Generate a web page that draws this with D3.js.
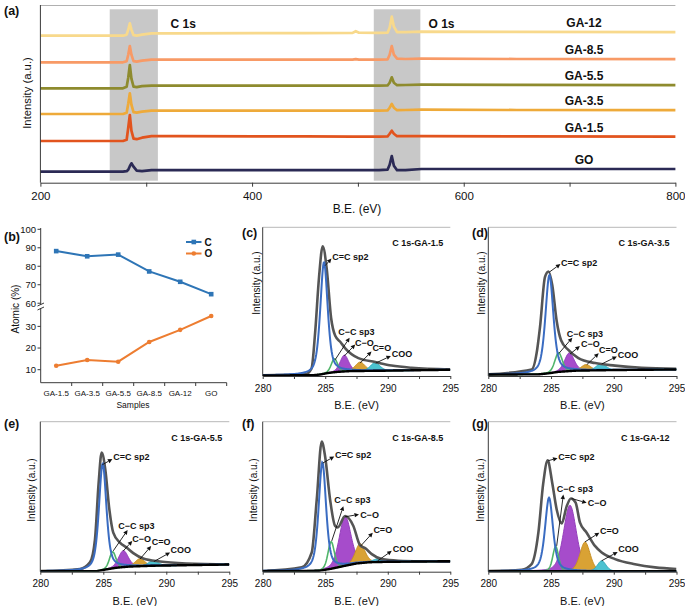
<!DOCTYPE html>
<html><head><meta charset="utf-8">
<script src="https://cdn.jsdelivr.net/npm/d3@7"></script>
<style>
body{margin:0;background:#fff}
svg{display:block;font-family:"Liberation Sans",Arial,Helvetica,sans-serif}
</style></head>
<body><svg id="chart" width="685" height="606"></svg>
<script>
// ================= DATA =================
// (a) survey spectra: binding energy grid and intensities (arb. units)
const surveyBE = [200, 278, 281.5, 283, 284.5, 286, 288, 291, 296, 305, 330, 450, 495, 498, 501, 520, 528, 530, 532, 534, 537, 545, 560, 650, 800];
const surveyNames = ["GA-12", "GA-8.5", "GA-5.5", "GA-3.5", "GA-1.5", "GO"];
const surveyGA12 = [147, 147, 148, 153, 159.4, 153, 147.5, 147, 148, 149.4, 149.4, 149.6, 149.8, 151.5, 150, 149.8, 150, 155, 166, 156, 150.5, 150.5, 151, 150.8, 150.5];
const surveyGA85 = [120.4, 120.4, 121.5, 128, 136.7, 128, 121.5, 121, 122, 123, 123, 123, 123, 123.5, 123, 123, 123.2, 128, 136.7, 128, 124, 123.7, 124, 123.7, 123.5];
const surveyGA55 = [94.4, 94.4, 96, 105, 117.7, 104, 96, 95.5, 96.5, 97, 97, 97, 97, 97, 97, 97, 97.2, 100, 105.4, 100, 97.5, 97.7, 98, 97.8, 97.5];
const surveyGA35 = [68.7, 68.7, 70, 79, 89.4, 78, 70.5, 70, 71, 72, 72, 72, 72, 72, 72, 72, 72.2, 75, 78.7, 75, 72.5, 72.7, 73, 72.7, 72.5];
const surveyGA15 = [41.7, 41.7, 43, 55, 67.7, 52, 44, 43.5, 45, 46.5, 46.5, 46.3, 46, 46, 46, 46, 46.2, 49, 52, 49, 46.5, 46.5, 46.5, 46.3, 46];
const surveyGO   = [11, 11, 11.5, 13, 16.5, 19.4, 16, 12, 11.5, 12.5, 12.5, 12.5, 12.5, 12.5, 12.5, 12.5, 13, 18, 26.7, 17, 12.5, 12.5, 13.7, 13.7, 13.7];
const surveyColors = ["#f8d98c", "#f89a66", "#8e8b2e", "#eeaa3a", "#e2541e", "#2b2a55"];
const surveyTicks = [200, 300, 400, 500, 600, 700, 800];
const surveyTickLabels = [200, 400, 600, 800];
const bandC1s = [265.5, 311];
const bandO1s = [515, 559];
const regionLabels = ["C 1s", "O 1s"];
const regionLabelBE = [335, 579];

// (b) atomic composition
const samples = ["GA-1.5", "GA-3.5", "GA-5.5", "GA-8.5", "GA-12", "GO"];
const atomicC = [88.2, 85.4, 86.3, 77.2, 71.6, 64.9];
const atomicO = [11.8, 14.5, 13.7, 22.8, 28.4, 34.8];
const upperTicks = [60, 70, 80, 90, 100];
const lowerTicks = [10, 20, 30];

// (c)-(g) C 1s high resolution fits
const beTicks = [280, 282.5, 285, 287.5, 290, 292.5, 295];
const beTickLabels = [280, 285, 290, 295];
const componentNames = ["C=C sp2", "C\u2212C sp3", "C\u2212O", "C=O", "COO"];
// each component: [centre (eV), height (% of frame), FWHM (eV)]
const compGA15 = [[284.9, 75, 0.7], [285.73, 9, 0.6], [286.53, 11, 0.8], [287.79, 6, 0.9], [288.99, 5.5, 0.9]];
const compGA35 = [[284.87, 66, 0.75], [285.6, 12.8, 0.7], [286.46, 12.3, 0.9], [287.79, 4, 0.9], [288.99, 4.5, 0.9]];
const compGA55 = [[284.95, 71, 0.7], [285.74, 11, 0.6], [286.59, 11, 0.9], [287.91, 5, 0.9], [288.97, 3.5, 0.9]];
const compGA85 = [[284.77, 72, 0.7], [285.47, 18, 0.6], [286.59, 33, 1.1], [287.79, 13, 0.9], [289.12, 2, 0.8]];
const compGA12 = [[284.84, 49, 0.75], [285.37, 16.5, 0.55], [286.51, 44, 1.2], [287.71, 19.5, 0.95], [289.04, 7, 0.8]];
// measured envelopes [eV, %]
const envGA15 = [[280,0.4],[283.4,1.1],[283.9,5],[284.2,30],[284.5,66],[284.8,87.3],[285.12,72],[285.47,39],[285.8,27],[286.2,23],[286.6,18.6],[287.65,12],[289,9.4],[290.3,7],[291.9,5.5],[295,4.4]];
const envGA35 = [[280,1.1],[283.46,4.4],[283.9,18],[284.12,32.8],[284.52,66.6],[284.8,70.3],[285.1,61],[285.45,37],[285.8,24],[286.38,17.5],[287.18,12],[288.51,8.7],[290.1,7],[292.23,5.5],[295,4.8]];
const envGA55 = [[280,0.4],[283.15,1.8],[283.94,6.2],[284.34,21.6],[284.63,59.2],[284.87,79.5],[285.16,68],[285.48,41.5],[285.79,26],[286.32,19.4],[286.85,16.1],[287.38,12.4],[288.17,8.8],[289.5,6.8],[291.6,5.5],[295,4.9]];
const envGA85 = [[280,0.4],[283.12,2.9],[283.92,12.8],[284.32,48],[284.72,86.8],[284.99,76.8],[285.39,48],[285.79,30.5],[286.0,29.5],[286.59,37.1],[287.25,30.5],[287.79,17.5],[288.19,15.7],[288.72,11.7],[289.52,8.4],[290.85,7.3],[295,6.6]];
const envGA12 = [[280,0.4],[282.66,1.3],[283.45,5],[283.99,26],[284.38,59],[284.73,74.2],[285.1,59],[285.45,41.5],[285.85,32.2],[286.25,43.7],[286.59,48.8],[286.96,46],[287.31,32.7],[287.84,26],[288.5,17.2],[289.04,12.8],[290.1,8.4],[291.69,5],[293.29,2.9],[295,1.8]];
// Shirley backgrounds [eV, %]
const bgGA15 = [[280,0.4],[284,0.5],[284.6,1],[285.2,2],[286,2.8],[287,3.3],[290,3.6],[295,4.2]];
const bgGA35 = [[280,1],[284,1.1],[284.8,1.8],[285.6,2.8],[287,3.6],[290,4],[295,4.4]];
const bgGA55 = [[280,0.3],[284.5,0.4],[285.2,1.5],[286,2.6],[287,3.4],[289,4],[295,4.8]];
const bgGA85 = [[280,0.4],[284.5,0.6],[285.5,2],[286.5,3.8],[287.5,5.5],[288.5,6.3],[290,6.6],[295,7]];
const bgGA12 = [[280,0.3],[295,0.3]];
// annotation: [label left eV, label %, arrow from eV, from %, arrow to eV, to %]
const annGA15 = [[285.57,80.3,284.99,74.2,285.5,79],[286.05,29.5,285.79,10.9,286.95,25.8],[287.39,22.3,286.53,13.5,287.4,21.2],[288.77,19,287.79,8.7,288.7,16.4],[290.32,14.8,289.04,8.7,290.25,13.5]];
const annGA35 = [[285.8,76.4,284.87,69.9,285.75,75.3],[286.25,28.4,285.64,15.3,286.7,25.8],[287.39,21.8,286.52,14.8,287.3,20.1],[288.83,17.5,287.85,7.6,288.8,15.3],[290.32,14.2,289.04,8.1,290.25,13.1]];
const annGA55 = [[285.79,76.8,284.92,71.3,285.72,75.1],[286.19,30.5,285.79,13.9,286.93,27.8],[287.3,21.6,286.59,13.9,287.3,20.5],[288.84,19.9,287.91,8.4,288.8,17.2],[290.34,14.3,289.02,6.8,290.3,12.8]];
const annGA85 = [[285.79,77.9,284.8,72.4,285.72,76.8],[285.73,48.1,285.52,20.5,286.45,43.7],[287.79,38.2,286.59,36.6,287.7,38.2],[288.85,27.6,287.84,17.2,288.8,26],[290.4,15,289.2,7.3,290.32,13.9]];
const annGA12 = [[285.58,76.8,284.78,74,285.52,75.7],[285.45,55.2,285.45,17.2,285.98,51.4],[287.92,45.9,286.64,48.8,287.84,45.9],[288.9,27.2,287.71,19.9,288.85,26],[290.36,15,289.04,7.3,290.31,13.2]];

// ================= DRAW =================
const svg = d3.select("#chart");
const AX = "#3a3a3a";
function panelLetter(txt, x, y) {
  svg.append("text").attr("x", x).attr("y", y).attr("font-size", 12.5).attr("font-weight", "bold").attr("fill", "#111").text(txt);
}
// ---------- (a) ----------
(function () {
  const x = d3.scaleLinear().domain([200, 800]).range([40.4, 675.4]);
  const y = d3.scaleLinear().domain([0, 177.7]).range([182.7, 5]);
  const g = svg.append("g");
  [bandC1s, bandO1s].forEach(b => {
    g.append("rect").attr("x", x(b[0])).attr("width", x(b[1]) - x(b[0])).attr("y", 9.3).attr("height", 180.7 - 9.3).attr("fill", "#c8c8c8");
  });
  g.append("line").attr("x1", x(200)).attr("x2", x(800)).attr("y1", 5.5).attr("y2", 5.5).attr("stroke", "#b0b0b0");
  const series = [surveyGA12, surveyGA85, surveyGA55, surveyGA35, surveyGA15, surveyGO];
  const line = d3.line().x((d, i) => x(surveyBE[i])).y(d => y(d));
  series.forEach((s, k) => {
    g.append("path").attr("d", line(s)).attr("fill", "none").attr("stroke", surveyColors[k]).attr("stroke-width", 2.7).attr("stroke-linejoin", "round");
    g.append("text").attr("x", 584).attr("y", y(s[s.length - 1]) - 9).attr("dy", "0.35em").attr("text-anchor", "middle").attr("font-size", 12).attr("font-weight", "bold").attr("fill", "#111").text(surveyNames[k]);
  });
  regionLabels.forEach((t, i) => {
    g.append("text").attr("x", x(regionLabelBE[i])).attr("y", 24).attr("dy", "0.35em").attr("text-anchor", "middle").attr("font-size", 12).attr("font-weight", "bold").attr("fill", "#111").text(t);
  });
  const xa = g.append("g").attr("transform", "translate(0,182.7)")
    .call(d3.axisBottom(x).tickValues(surveyTicks).tickSize(4).tickSizeOuter(0).tickFormat(d => surveyTickLabels.includes(d) ? d : ""));
  xa.select(".domain").attr("stroke", AX);
  xa.selectAll("line").attr("stroke", AX);
  xa.selectAll("text").attr("font-size", 11.5).attr("font-family", "Liberation Sans, Arial").attr("fill", "#111").attr("dy", "0.9em");
  g.append("line").attr("x1", 40.4).attr("x2", 40.4).attr("y1", 5).attr("y2", 182.7).attr("stroke", AX);
  g.append("text").attr("x", 357).attr("y", 213).attr("text-anchor", "middle").attr("font-size", 12).attr("fill", "#111").text("B.E. (eV)");
  g.append("text").attr("transform", "translate(31,93) rotate(-90)").attr("text-anchor", "middle").attr("font-size", 11.3).attr("fill", "#111").text("Intensity (a.u.)");
  panelLetter("(a)", 4, 15);
})();
// ---------- (b) ----------
(function () {
  const g = svg.append("g");
  const x = d3.scaleBand().domain(samples).range([40.7, 226.7]);
  const yU = d3.scaleLinear().domain([58.5, 100]).range([306, 229.3]);
  const yL = d3.scaleLinear().domain([4, 36.5]).range([382.7, 312.3]);
  const cx = d => x(d) + x.bandwidth() / 2;
  g.append("line").attr("x1", 40.7).attr("x2", 40.7).attr("y1", 228).attr("y2", 382.7).attr("stroke", AX);
  g.append("line").attr("x1", 40.7).attr("x2", 226.7).attr("y1", 382.7).attr("y2", 382.7).attr("stroke", AX);
  g.append("rect").attr("x", 37).attr("y", 305).attr("width", 8).attr("height", 3).attr("fill", "#fff");
  [304.5, 308.5].forEach(v => g.append("line").attr("x1", 37.5).attr("x2", 44).attr("y1", v + 1.5).attr("y2", v - 1.5).attr("stroke", AX));
  samples.forEach(s => {
    const bx = x(s) + x.bandwidth();
    g.append("line").attr("x1", bx).attr("x2", bx).attr("y1", 382.7).attr("y2", 386).attr("stroke", AX);
    g.append("text").attr("x", cx(s)).attr("y", 393.5).attr("dy", "0.35em").attr("text-anchor", "middle").attr("font-size", 8).attr("fill", "#111").text(s);
  });
  upperTicks.forEach(t => {
    g.append("line").attr("x1", 37.5).attr("x2", 40.7).attr("y1", yU(t)).attr("y2", yU(t)).attr("stroke", AX);
    g.append("text").attr("x", 36).attr("y", yU(t)).attr("dy", "0.35em").attr("text-anchor", "end").attr("font-size", 9.5).attr("fill", "#111").text(t);
  });
  lowerTicks.forEach(t => {
    g.append("line").attr("x1", 37.5).attr("x2", 40.7).attr("y1", yL(t)).attr("y2", yL(t)).attr("stroke", AX);
    g.append("text").attr("x", 36).attr("y", yL(t)).attr("dy", "0.35em").attr("text-anchor", "end").attr("font-size", 9.5).attr("fill", "#111").text(t);
  });
  const cCol = "#2e75b6", oCol = "#ed7d31";
  g.append("path").attr("d", d3.line().x((d, i) => cx(samples[i])).y(d => yU(d))(atomicC)).attr("fill", "none").attr("stroke", cCol).attr("stroke-width", 2);
  g.append("path").attr("d", d3.line().x((d, i) => cx(samples[i])).y(d => yL(d))(atomicO)).attr("fill", "none").attr("stroke", oCol).attr("stroke-width", 2);
  atomicC.forEach((d, i) => g.append("rect").attr("x", cx(samples[i]) - 2.3).attr("y", yU(d) - 2.3).attr("width", 4.6).attr("height", 4.6).attr("fill", cCol));
  atomicO.forEach((d, i) => g.append("circle").attr("cx", cx(samples[i])).attr("cy", yL(d)).attr("r", 2.3).attr("fill", oCol));
  [["C", cCol, 242], ["O", oCol, 253.5]].forEach(([t, c, yy], k) => {
    g.append("line").attr("x1", 186).attr("x2", 201.5).attr("y1", yy).attr("y2", yy).attr("stroke", c).attr("stroke-width", 2);
    if (k === 0) g.append("rect").attr("x", 191.5).attr("y", yy - 2.3).attr("width", 4.6).attr("height", 4.6).attr("fill", c);
    else g.append("circle").attr("cx", 193.8).attr("cy", yy).attr("r", 2.3).attr("fill", c);
    g.append("text").attr("x", 204.5).attr("y", yy).attr("dy", "0.35em").attr("font-size", 10).attr("font-weight", "bold").attr("fill", "#111").text(t);
  });
  g.append("text").attr("transform", "translate(19,309) rotate(-90)").attr("text-anchor", "middle").attr("font-size", 10).attr("fill", "#111").text("Atomic (%)");
  g.append("text").attr("x", 133).attr("y", 405).attr("dy", "0.35em").attr("text-anchor", "middle").attr("font-size", 8.5).attr("fill", "#111").text("Samples");
  panelLetter("(b)", 4, 241);
})();
// ---------- (c)-(g) ----------
const compStyles = [
  {fill: "none", stroke: "#3a6cc2", sw: 2},
  {fill: "none", stroke: "#50b56a", sw: 1.6},
  {fill: "#a64ccb", stroke: "#9440bb", sw: 1},
  {fill: "#d9a234", stroke: "#c89025", sw: 1},
  {fill: "#4cc2d0", stroke: "#33aab9", sw: 1}
];
function pv(e, c, h, w, eta) {
  const dx = e - c, hw = w / 2;
  const L = 1 / (1 + (dx / hw) * (dx / hw));
  const G = Math.exp(-Math.LN2 * (dx / hw) * (dx / hw));
  return h * (eta * L + (1 - eta) * G);
}
let clipId = 0;
function xpsPanel(o) {
  const g = svg.append("g");
  const x = d3.scaleLinear().domain([280, 295]).range([o.L, o.R]);
  const y = d3.scaleLinear().domain([0, 100]).range([o.B, o.T]);
  const bg = d3.scaleLinear().domain(o.bg.map(d => d[0])).range(o.bg.map(d => d[1])).clamp(true);
  const id = "clip" + (clipId++);
  svg.append("clipPath").attr("id", id).append("rect").attr("x", o.L).attr("y", o.T).attr("width", o.R - o.L).attr("height", o.B - o.T);
  const pg = g.append("g").attr("clip-path", `url(#${id})`);
  const grid = d3.range(280, 295.001, 0.04);
  [2, 3, 4].forEach(k => {
    const [c, h, w] = o.comp[k];
    const area = d3.area().x(e => x(e)).y0(e => y(bg(e))).y1(e => y(bg(e) + pv(e, c, h, w, 0.3)));
    pg.append("path").attr("d", area(grid)).attr("fill", compStyles[k].fill).attr("stroke", compStyles[k].stroke).attr("stroke-width", compStyles[k].sw);
  });
  pg.append("path").attr("d", d3.line().x(d => x(d[0])).y(d => y(d[1])).curve(d3.curveMonotoneX)(o.env))
    .attr("fill", "none").attr("stroke", "#555").attr("stroke-width", 2.6).attr("stroke-linejoin", "round");
  [1, 0].forEach(k => {
    const [c, h, w] = o.comp[k];
    const eta = k === 0 ? 0.55 : 0.3;
    const ln = d3.line().x(e => x(e)).y(e => y(bg(e) + pv(e, c, h, w, eta)));
    pg.append("path").attr("d", ln(grid)).attr("fill", "none").attr("stroke", compStyles[k].stroke).attr("stroke-width", compStyles[k].sw);
  });
  pg.append("path").attr("d", d3.line().x(e => x(e)).y(e => y(bg(e)))(grid)).attr("fill", "none").attr("stroke", "#000").attr("stroke-width", 2.4);
  g.append("line").attr("x1", o.L).attr("x2", o.R).attr("y1", o.T).attr("y2", o.T).attr("stroke", "#b8b8b8");
  g.append("line").attr("x1", o.L).attr("x2", o.L).attr("y1", o.T).attr("y2", o.B).attr("stroke", AX);
  const xa = g.append("g").attr("transform", `translate(0,${o.B})`)
    .call(d3.axisBottom(x).tickValues(beTicks).tickSize(3).tickSizeOuter(0).tickFormat(d => beTickLabels.includes(d) ? d : ""));
  xa.select(".domain").attr("stroke", AX);
  xa.selectAll("line").attr("stroke", AX);
  xa.selectAll("text").attr("font-size", 10).attr("font-family", "Liberation Sans, Arial").attr("fill", "#111").attr("dy", "0.95em");
  g.append("text").attr("x", (o.L + o.R) / 2).attr("y", o.B + 29).attr("dy", "0.35em").attr("text-anchor", "middle").attr("font-size", 11).attr("fill", "#111").text("B.E. (eV)");
  g.append("text").attr("transform", `translate(${o.yl},${o.ylc}) rotate(-90)`).attr("text-anchor", "middle").attr("dy", "0.35em").attr("font-size", 10).attr("fill", "#111").text("Intensity (a.u.)");
  g.append("text").attr("x", o.R - 7).attr("y", o.T + 16).attr("dy", "0.35em").attr("text-anchor", "end").attr("font-size", 9).attr("font-weight", "bold").attr("fill", "#111").text(o.title);
  o.ann.forEach((a, k) => {
    const x1 = x(a[2]), y1 = y(a[3]), x2 = x(a[4]), y2 = y(a[5]);
    const ang = Math.atan2(y2 - y1, x2 - x1), hl = 4.5, hwd = 2.2;
    const bx = x2 - hl * Math.cos(ang), by = y2 - hl * Math.sin(ang);
    g.append("line").attr("x1", x1).attr("y1", y1).attr("x2", bx).attr("y2", by).attr("stroke", "#111").attr("stroke-width", 0.9);
    g.append("path").attr("d", `M${x2},${y2}L${bx + hwd * Math.sin(ang)},${by - hwd * Math.cos(ang)}L${bx - hwd * Math.sin(ang)},${by + hwd * Math.cos(ang)}Z`).attr("fill", "#111");
    g.append("text").attr("x", x(a[0])).attr("y", y(a[1])).attr("dy", "0.35em").attr("font-size", 9).attr("font-weight", "bold").attr("fill", "#111").text(componentNames[k]);
  });
  panelLetter(o.letter, o.lx, o.ly);
}
xpsPanel({L: 262.7, R: 450.3, T: 227.3, B: 376, comp: compGA15, env: envGA15, bg: bgGA15, ann: annGA15, title: "C 1s-GA-1.5", yl: 256.5, ylc: 283, letter: "(c)", lx: 242, ly: 237});
xpsPanel({L: 488.3, R: 676.5, T: 227.3, B: 376, comp: compGA35, env: envGA35, bg: bgGA35, ann: annGA35, title: "C 1s-GA-3.5", yl: 481.5, ylc: 283, letter: "(d)", lx: 472, ly: 237});
xpsPanel({L: 40.3, R: 229.3, T: 421.7, B: 571.7, comp: compGA55, env: envGA55, bg: bgGA55, ann: annGA55, title: "C 1s-GA-5.5", yl: 31.5, ylc: 490, letter: "(e)", lx: 4, ly: 428});
xpsPanel({L: 262.7, R: 450.3, T: 421.7, B: 571.7, comp: compGA85, env: envGA85, bg: bgGA85, ann: annGA85, title: "C 1s-GA-8.5", yl: 253.5, ylc: 490, letter: "(f)", lx: 242, ly: 428});
xpsPanel({L: 488.3, R: 676.5, T: 421.7, B: 571.7, comp: compGA12, env: envGA12, bg: bgGA12, ann: annGA12, title: "C 1s-GA-12", yl: 480, ylc: 490, letter: "(g)", lx: 472, ly: 428});
</script>
</body></html>
